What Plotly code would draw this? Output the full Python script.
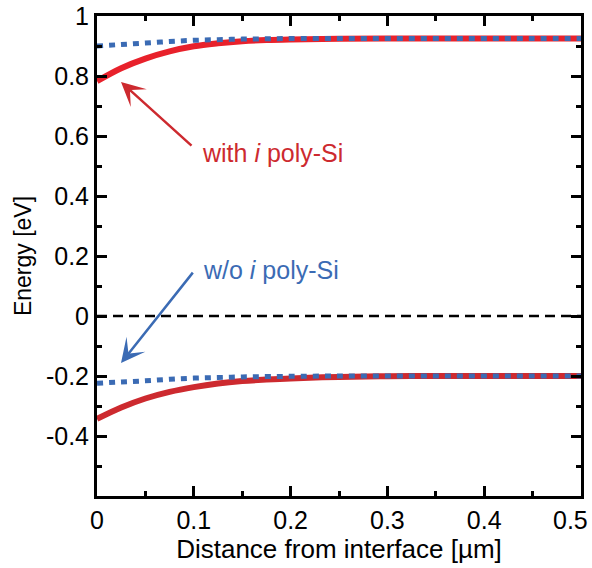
import plotly.graph_objects as go

# Band-edge energies vs. distance from the interface
distance_um = [0, 0.025, 0.05, 0.075, 0.1, 0.125, 0.15, 0.175, 0.2, 0.25, 0.3, 0.35, 0.4, 0.45, 0.5]

cb_with_i = [0.783, 0.826, 0.858, 0.882, 0.899, 0.909, 0.916, 0.920, 0.922, 0.924, 0.925, 0.925, 0.925, 0.925, 0.925]
cb_without_i = [0.900, 0.905, 0.910, 0.915, 0.919, 0.921, 0.923, 0.924, 0.925, 0.925, 0.925, 0.925, 0.925, 0.925, 0.925]
vb_with_i = [-0.343, -0.305, -0.275, -0.253, -0.237, -0.225, -0.217, -0.212, -0.208, -0.203, -0.201, -0.200, -0.200, -0.200, -0.200]
vb_without_i = [-0.224, -0.220, -0.216, -0.211, -0.207, -0.205, -0.203, -0.202, -0.201, -0.200, -0.200, -0.200, -0.200, -0.200, -0.200]

x_ticks = [0, 0.1, 0.2, 0.3, 0.4, 0.5]
# the last label is drawn right-aligned to the frame edge (see below)
x_labels = ["0", "0.1", "0.2", "0.3", "0.4", ""]
x_last_label = "0.5"
y_ticks = [-0.4, -0.2, 0, 0.2, 0.4, 0.6, 0.8, 1]
y_labels = ["-0.4", "-0.2", "0", "0.2", "0.4", "0.6", "0.8", "1"]

RED_CB = "#e8212b"
RED_VB = "#cd2a2f"
BLUE = "#3b6bb4"
FONT = "Liberation Sans, Arial, sans-serif"

fig = go.Figure()

# solid red curves first, dotted blue curves drawn on top
fig.add_trace(go.Scatter(x=distance_um, y=cb_with_i, mode="lines",
                         line=dict(color=RED_CB, width=6, shape="spline"), showlegend=False))
fig.add_trace(go.Scatter(x=distance_um, y=vb_with_i, mode="lines",
                         line=dict(color=RED_VB, width=6, shape="spline"), showlegend=False))
fig.add_trace(go.Scatter(x=distance_um, y=cb_without_i, mode="lines",
                         line=dict(color=BLUE, width=5, dash="6px,6px", shape="spline"), showlegend=False))
fig.add_trace(go.Scatter(x=distance_um, y=vb_without_i, mode="lines",
                         line=dict(color=BLUE, width=5, dash="6px,6px", shape="spline"), showlegend=False))

# Fermi level reference
fig.add_shape(type="line", xref="x", yref="y", x0=0, x1=0.5, y0=0, y1=0,
              line=dict(color="black", width=2.5, dash="10px,6px"), layer="below")

# arrows (tip at the curve, tail near the label)
fig.add_annotation(x=0.0248, y=0.78, ax=72, ay=65, text="", showarrow=True,
                   arrowhead=3, arrowsize=1.6, arrowwidth=2.5, arrowcolor=RED_VB, standoff=0)
fig.add_annotation(x=0.0248, y=-0.157, ax=73, ay=-92, text="", showarrow=True,
                   arrowhead=3, arrowsize=1.6, arrowwidth=2.5, arrowcolor=BLUE, standoff=0)

fig.add_annotation(x=0.1065, y=0.545, text="with <i>i</i> poly-Si", showarrow=False,
                   xanchor="left", yanchor="middle", font=dict(family=FONT, size=25, color=RED_VB))
fig.add_annotation(x=0.1075, y=0.153, text="w/o <i>i</i> poly-Si", showarrow=False,
                   xanchor="left", yanchor="middle", font=dict(family=FONT, size=25, color=BLUE))

# last x tick label, kept inside the page
fig.add_annotation(x=x_ticks[-1], xref="x", y=0, yref="paper", text=x_last_label, showarrow=False,
                   xanchor="right", yanchor="middle", xshift=9, yshift=-24,
                   font=dict(family=FONT, size=25, color="black"))

axis_common = dict(showgrid=False, zeroline=False, showline=True, linecolor="black", linewidth=3,
                   mirror="ticks", ticks="inside", ticklen=10, tickwidth=2.5, tickcolor="black",
                   automargin=False,
                   tickfont=dict(family=FONT, size=25, color="black"))

fig.update_xaxes(range=[0, 0.50001], tickmode="array", tickvals=x_ticks, ticktext=x_labels,
                 minor=dict(dtick=0.05, ticks="inside", ticklen=5, tickwidth=2.5, tickcolor="black"),
                 title=dict(text="Distance from interface [µm]", font=dict(family=FONT, size=26, color="black"),
                            standoff=7),
                 **axis_common)
fig.update_yaxes(range=[-0.6, 1], tickmode="array", tickvals=y_ticks, ticktext=y_labels,
                 minor=dict(dtick=0.1, ticks="inside", ticklen=5, tickwidth=2.5, tickcolor="black"),
                 title=dict(text="Energy [eV]", font=dict(family=FONT, size=23, color="black"),
                            standoff=8),
                 **axis_common)

fig.update_layout(width=592, height=568, margin=dict(l=97, r=11, t=16, b=72),
                  plot_bgcolor="white", paper_bgcolor="white", showlegend=False,
                  font=dict(family=FONT))

fig.write_html("out.html")
